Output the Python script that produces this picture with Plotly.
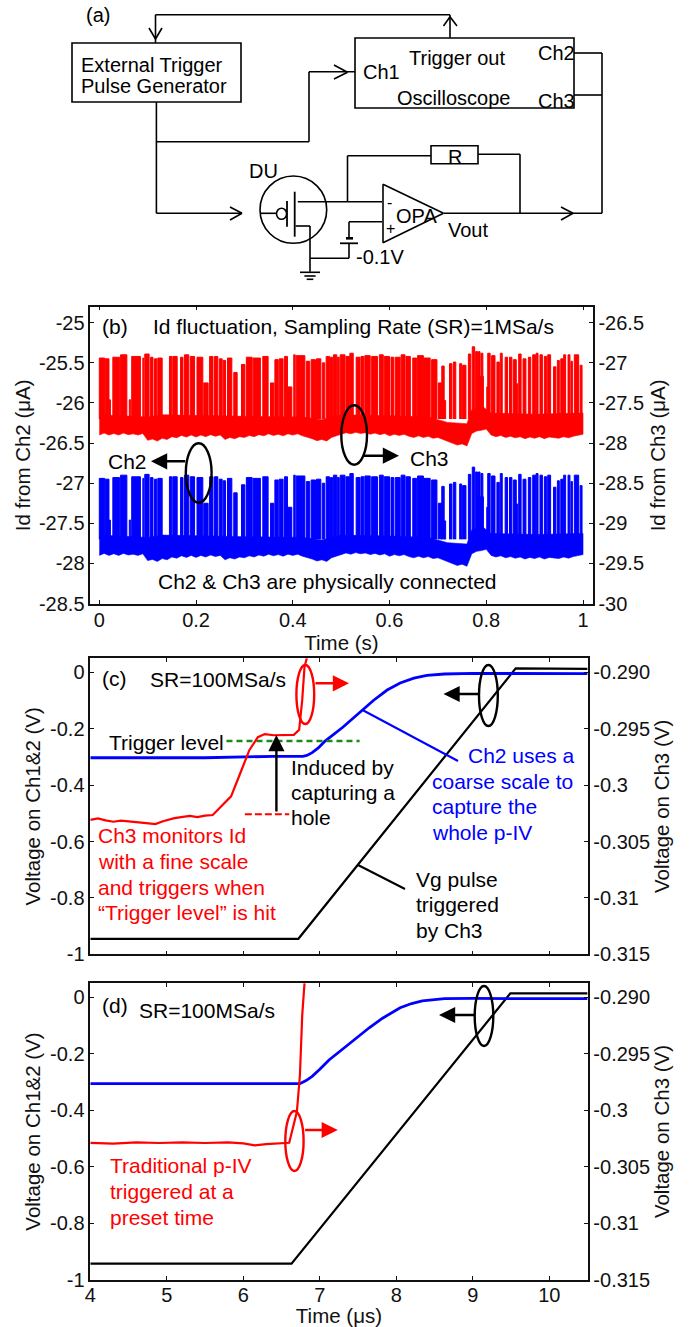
import plotly.graph_objects as go

# ---------- panel (b): Id fluctuation (values in uA; Ch2 on left axis, Ch3 on right axis)
b_xticks = [0, 0.2, 0.4, 0.6, 0.8, 1]
b_xticktext = ["0", "0.2", "0.4", "0.6", "0.8", "1"]
b_lticks = [-25, -25.5, -26, -26.5, -27, -27.5, -28, -28.5]
b_lticktext = ["-25", "-25.5", "-26", "-26.5", "-27", "-27.5", "-28", "-28.5"]
b_rticks = [-26.5, -27, -27.5, -28, -28.5, -29, -29.5, -30]
b_rticktext = ["-26.5", "-27", "-27.5", "-28", "-28.5", "-29", "-29.5", "-30"]

band_t = [i / 100 for i in range(101)]
band_low = [-27.90, -27.875, -27.90, -27.88, -27.90, -27.875, -27.895, -27.885, -27.90, -27.88,
            -27.965, -27.95, -27.975, -27.94, -27.955, -27.92, -27.935, -27.905, -27.925, -27.90,
            -27.925, -27.90, -27.92, -27.895, -27.915, -27.90, -27.955, -27.93, -27.945, -27.92,
            -27.93, -27.905, -27.92, -27.895, -27.91, -27.885, -27.905, -27.89, -27.91, -27.885,
            -27.90, -27.885, -27.91, -27.925, -27.945, -27.97, -27.955, -27.975, -27.93, -27.91,
            -27.885, -27.87, -27.885, -27.865, -27.88, -27.87, -27.89, -27.875, -27.895, -27.88,
            -27.91, -27.89, -27.905, -27.89, -27.915, -27.93, -27.91, -27.93, -27.915, -27.94,
            -27.93, -27.955, -27.975, -28.00, -28.025, -28.01, -28.035, -27.88, -27.85, -27.84,
            -27.825, -27.90, -27.92, -27.905, -27.93, -27.915, -27.935, -27.92, -27.945, -27.925,
            -27.94, -27.92, -27.945, -27.925, -27.93, -27.94, -27.92, -27.935, -27.915, -27.90, -27.89]
top_t = [0, .1, .13, .3, .42, .46, .5, .6, .68, .72, .76, .77, .79, .81, .9, 1.0]
band_high = [-27.647, -27.676, -27.647, -27.667, -27.676, -27.709, -27.647, -27.659, -27.676, -27.742, -27.759,
             -27.584, -27.534, -27.626, -27.64, -27.626]

spike_start = [.000, .012, .021, .028, .044, .062, .067, .090, .094, .106, .114, .121, .145, .152, .168, .176, .188,
               .202, .216, .228, .238, .248, .256, .265, .278, .294, .304, .318, .338, .354, .363, .372, .383, .390,
               .402, .407, .428, .438, .449, .461, .469, .478, .484, .492, .498, .510, .518, .531, .541, .549, .563,
               .579, .589, .603, .612, .624, .634, .648, .658, .671, .687, .701, .708, .713, .724, .732, .745, .751,
               .763, .771, .778, .784, .789, .780, .801, .803, .811, .822, .829, .839, .848, .856, .862, .867, .876,
               .887, .896, .903, .911, .920, .927, .939, .947, .954, .960, .969, .975, .982, .994]
spike_end = [.011, .020, .023, .042, .057, .065, .085, .092, .103, .111, .119, .130, .150, .161, .173, .185, .197,
             .214, .225, .235, .245, .254, .261, .274, .285, .301, .316, .333, .349, .361, .370, .380, .389, .398,
             .405, .425, .435, .447, .458, .466, .476, .482, .491, .496, .508, .517, .525, .539, .547, .560, .575,
             .587, .600, .609, .622, .632, .643, .656, .670, .684, .698, .708, .713, .716, .729, .737, .749, .758,
             .768, .776, .782, .787, .793, .794, .803, .808, .818, .827, .833, .844, .853, .862, .865, .872, .882,
             .892, .902, .907, .916, .925, .933, .944, .951, .959, .964, .973, .978, .991, .998]
spike_top = [-26.94, -26.95, -27.46, -26.93, -26.90, -27.46, -26.92, -26.94, -26.89, -26.93, -26.95, -26.94, -26.92,
             -26.92, -26.93, -26.90, -26.92, -26.93, -27.25, -26.92, -26.92, -26.95, -26.97, -26.94, -27.12, -27.02,
             -26.93, -26.94, -26.92, -27.25, -26.96, -26.95, -26.92, -27.30, -26.90, -26.91, -26.98, -26.96, -26.95,
             -27.00, -26.92, -26.93, -26.90, -26.93, -26.90, -26.92, -26.88, -26.93, -26.92, -26.91, -26.92, -26.90,
             -26.92, -26.93, -26.93, -26.90, -26.92, -26.94, -26.91, -26.94, -26.96, -27.25, -27.04, -27.47, -27.01,
             -26.99, -27.01, -27.03, -26.89, -26.80, -26.86, -26.86, -26.88, -27.17, -27.30, -26.88, -26.91, -26.99,
             -26.88, -26.93, -26.93, -26.96, -27.26, -26.89, -26.95, -26.93, -26.90, -26.88, -26.90, -26.92, -26.90,
             -27.05, -26.97, -26.95, -26.90, -26.90, -26.98, -26.90, -27.03]
spike_base = -27.7

# ---------- panels (c), (d): shared ticks
cd_xticks = [4, 5, 6, 7, 8, 9, 10]
cd_xticktext = ["4", "5", "6", "7", "8", "9", "10"]
cd_lticks = [0, -0.2, -0.4, -0.6, -0.8, -1]
cd_lticktext = ["0", "-0.2", "-0.4", "-0.6", "-0.8", "-1"]
cd_rticks = [-0.290, -0.295, -0.300, -0.305, -0.310, -0.315]
cd_rticktext = ["-0.290", "-0.295", "-0.3", "-0.305", "-0.31", "-0.315"]

# ---------- panel (c)
c_blue_t = [4, 5.5, 6.4, 6.78, 6.83, 6.9, 6.98, 7.06, 7.3, 7.56, 7.7, 7.88, 8.05, 8.23, 8.4, 8.63, 9, 10.5]
c_blue_v = [-.303, -.303, -.298, -.298, -.295, -.285, -.268, -.246, -.195, -.134, -.10, -.063, -.038, -.021, -.011,
            -.006, -.004, -.005]
c_black_t = [4, 6.72, 9.56, 10, 10.5]
c_black_v = [-.945, -.945, .014, .012, .012]
c_red_t = [4.0, 4.1, 4.2, 4.3, 4.4, 4.5, 4.6, 4.7, 4.85, 4.95, 5.1, 5.2, 5.3, 5.4, 5.5, 5.6, 5.73, 5.84, 5.96, 6.08,
           6.19, 6.28, 6.4, 6.5, 6.66, 6.73, 6.77, 6.80, 6.83]
c_red_v3 = [-.30308, -.30295, -.30313, -.30325, -.30315, -.3032, -.30328, -.30335, -.30345, -.3032, -.30293, -.30283,
            -.30273, -.30283, -.3027, -.30265, -.30175, -.301, -.29895, -.29688, -.29575, -.29548, -.29558, -.29555,
            -.29555, -.2951, -.29245, -.2895, -.28875]
trigger_t = [5.78, 7.52]
trigger_v = [-.2435, -.2435]
hole_t = [6.02, 6.6]
hole_v = [-.503, -.503]

# ---------- panel (d)
d_blue_t = [4, 6.74, 6.82, 6.9, 7.0, 7.12, 7.3, 7.47, 7.65, 7.82, 7.95, 8.05, 8.2, 8.34, 8.5, 8.63, 9, 10.5]
d_blue_v = [-.306, -.306, -.295, -.28, -.255, -.222, -.183, -.145, -.107, -.074, -.052, -.037, -.022, -.013, -.008,
            -.005, -.004, -.005]
d_black_t = [4, 6.63, 9.49, 10.5]
d_black_v = [-.943, -.943, .014, .014]
d_red_t = [4, 4.3, 4.6, 4.9, 5.2, 5.5, 5.8, 6.0, 6.15, 6.3, 6.6, 6.70, 6.74, 6.77, 6.80]
d_red_v3 = [-.30288, -.30295, -.30285, -.3029, -.30285, -.3029, -.30285, -.30293, -.3031, -.303, -.30288, -.30013,
            -.29688, -.29158, -.28875]

# ---------- page geometry (pixels)
W, H = 696, 1327
def fx(p): return p / W
def fy(p): return 1 - p / H

LEFT, B_RIGHT, CD_RIGHT = 90.3, 592.7, 587.6
B_TOP, B_BOT = 306.7, 604.0
C_TOP, C_BOT = 658.3, 954.3
D_TOP, D_BOT = 983.3, 1279.7

FONT = "Liberation Sans"
TICK = 20
TXT = 21
SCH = 20
TITLE = 20.5
INK = "#111111"
RED, BLUE, BLACK, GREEN = "#ff0000", "#0000ff", "#000000", "#1a8a1a"

fig = go.Figure()

def spike_polys():
    xs, ys = [], []
    for s, e, t in zip(spike_start, spike_end, spike_top):
        xs += [s, s, e, e, None]
        ys += [spike_base, t, t, spike_base, None]
    return xs, ys

def band_poly():
    return band_t + top_t[::-1], band_low + band_high[::-1]

for color, ya in ((BLUE, "y"), (RED, "y2")):
    bx, by = band_poly()
    fig.add_trace(go.Scatter(x=bx, y=by, fill="toself", fillcolor=color, mode="lines",
                             line=dict(color=color, width=0.6), xaxis="x", yaxis=ya, showlegend=False, hoverinfo="skip"))
    sx, sy = spike_polys()
    fig.add_trace(go.Scatter(x=sx, y=sy, fill="toself", fillcolor=color, mode="lines",
                             line=dict(color=color, width=1.0), xaxis="x", yaxis=ya, showlegend=False, hoverinfo="skip"))

def line(x, y, color, w, xa, ya, dash=None):
    fig.add_trace(go.Scatter(x=x, y=y, mode="lines", line=dict(color=color, width=w, dash=dash),
                             xaxis=xa, yaxis=ya, showlegend=False))

line(c_black_t, c_black_v, BLACK, 2.2, "x2", "y3")
line(c_blue_t, c_blue_v, BLUE, 2.8, "x2", "y3")
line(c_red_t, c_red_v3, RED, 2.2, "x2", "y4")
line(trigger_t, trigger_v, GREEN, 2.4, "x2", "y3", "6px,4px")
line(hole_t, hole_v, RED, 2.0, "x2", "y3", "7px,3px")

line(d_black_t, d_black_v, BLACK, 2.2, "x3", "y5")
line(d_blue_t, d_blue_v, BLUE, 2.8, "x3", "y5")
line(d_red_t, d_red_v3, RED, 2.2, "x3", "y6")

axis_common = dict(showline=True, linecolor=INK, linewidth=1.5, ticks="inside", ticklen=4, tickwidth=1.2,
                   tickcolor=INK, showgrid=False, zeroline=False, tickfont=dict(family=FONT, size=TICK, color=INK))

def ytitle(text, standoff):
    return dict(text=text, font=dict(family=FONT, size=TITLE, color=INK), standoff=standoff)

fig.update_layout(
    width=W, height=H, margin=dict(l=0, r=0, t=0, b=0, autoexpand=False),
    paper_bgcolor="white", plot_bgcolor="white", showlegend=False,
    font=dict(family=FONT, size=TXT, color=INK),
    xaxis=dict(domain=[fx(LEFT), fx(B_RIGHT)], range=[-0.0186, 1.02], tickvals=b_xticks, ticktext=b_xticktext,
               anchor="y", mirror="ticks", ticklabelstandoff=-3,
               title=dict(text="Time (s)", font=dict(family=FONT, size=TITLE, color=INK), standoff=0), **axis_common),
    yaxis=dict(domain=[fy(B_BOT), fy(B_TOP)], range=[-28.506, -24.80], tickvals=b_lticks, ticktext=b_lticktext,
               anchor="x", title=ytitle("Id from Ch2 (μA)", 3), **axis_common),
    yaxis2=dict(domain=[fy(B_BOT), fy(B_TOP)], range=[-30.006, -26.30], tickvals=b_rticks, ticktext=b_rticktext,
                anchor="x", overlaying="y", side="right", title=ytitle("Id from Ch3 (μA)", 8), **axis_common),
    xaxis2=dict(domain=[fx(LEFT), fx(CD_RIGHT)], range=[4, 10.5], tickvals=cd_xticks, ticktext=[""] * 7,
                anchor="y3", mirror="ticks", **axis_common),
    yaxis3=dict(domain=[fy(C_BOT), fy(C_TOP)], range=[-1, 0.0496], tickvals=cd_lticks, ticktext=cd_lticktext,
                anchor="x2", title=ytitle("Voltage on Ch1&2 (V)", 4), **axis_common),
    yaxis4=dict(domain=[fy(C_BOT), fy(C_TOP)], range=[-0.315, -0.28876], tickvals=cd_rticks, ticktext=cd_rticktext,
                anchor="x2", overlaying="y3", side="right", title=ytitle("Voltage on Ch3 (V)", 6), **axis_common),
    xaxis3=dict(domain=[fx(LEFT), fx(CD_RIGHT)], range=[4, 10.5], tickvals=cd_xticks, ticktext=cd_xticktext,
                anchor="y5", mirror="ticks", ticklabelstandoff=-3,
                title=dict(text="Time (μs)", font=dict(family=FONT, size=TITLE, color=INK), standoff=0), **axis_common),
    yaxis5=dict(domain=[fy(D_BOT), fy(D_TOP)], range=[-1, 0.0496], tickvals=cd_lticks, ticktext=cd_lticktext,
                anchor="x3", title=ytitle("Voltage on Ch1&2 (V)", 4), **axis_common),
    yaxis6=dict(domain=[fy(D_BOT), fy(D_TOP)], range=[-0.315, -0.28876], tickvals=cd_rticks, ticktext=cd_rticktext,
                anchor="x3", overlaying="y5", side="right", title=ytitle("Voltage on Ch3 (V)", 6), **axis_common),
)

# ---------- schematic (a) and call-outs, placed on the page in pixels
shapes = []
def poly(pts, color=BLACK, w=1.6):
    for (x0, y0), (x1, y1) in zip(pts[:-1], pts[1:]):
        shapes.append(dict(type="line", xref="paper", yref="paper", x0=fx(x0), y0=fy(y0), x1=fx(x1), y1=fy(y1),
                           line=dict(color=color, width=w)))
def rect(x0, y0, x1, y1, w=1.6):
    shapes.append(dict(type="rect", xref="paper", yref="paper", x0=fx(x0), y0=fy(y0), x1=fx(x1), y1=fy(y1),
                       line=dict(color=BLACK, width=w), fillcolor="rgba(0,0,0,0)"))
def oval(x0, y0, x1, y1, color=BLACK, w=2.4):
    shapes.append(dict(type="circle", xref="paper", yref="paper", x0=fx(x0), y0=fy(y0), x1=fx(x1), y1=fy(y1),
                       line=dict(color=color, width=w), fillcolor="rgba(0,0,0,0)"))

rect(72, 43, 241, 102)
rect(355, 38, 574, 108)
poly([(155.5, 43), (155.5, 14.7), (450, 14.7), (450, 37.7)])
poly([(149, 28), (155.5, 39), (162, 28)])
poly([(443.5, 26), (450, 16.7), (457, 26)])
poly([(156.4, 102), (156.4, 213.3), (242, 213.3)])
poly([(230, 207), (242, 213.3), (230, 220)])
poly([(156.4, 141.7), (309, 141.7), (309, 71.7), (355, 71.7)])
poly([(334, 65), (347.5, 72.3), (334, 79)])
poly([(574, 53), (602, 53)])
poly([(574, 95), (602, 95)])
poly([(602, 53), (602, 213.3), (444, 213.3)])
poly([(561, 207), (573, 213.3), (561, 220)])
poly([(347.5, 201.7), (347.5, 155.7), (431, 155.7)])
rect(431, 145.7, 478, 163.7)
poly([(478, 154.3), (520, 154.3), (520, 213.3)])
oval(260, 176, 326.7, 243.3, BLACK, 1.6)
poly([(260, 213.3), (276.5, 213.3)])
oval(276.5, 208.3, 286.6, 219.3, BLACK, 1.6)
poly([(287, 201), (287, 226.7)], BLACK, 1.8)
poly([(294.7, 191.7), (294.7, 236.7)], BLACK, 1.8)
poly([(297.8, 201.7), (382, 201.7)])
poly([(295.5, 226), (310, 226), (310, 271.7)])
poly([(300, 272.3), (320, 272.3)])
poly([(304.4, 276), (315.6, 276)])
poly([(306.7, 279.3), (313.3, 279.3)])
poly([(310, 258.3), (349, 258.3), (349, 243.3)])
poly([(340, 243.3), (358, 243.3)], BLACK, 1.8)
poly([(346, 238.3), (353, 238.3)], BLACK, 2.6)
poly([(349, 238.3), (349, 221.7), (382, 221.7)])
poly([(383, 184.3), (383, 242.7), (443.5, 213.3), (383, 184.3)])

oval(185.8, 443.3, 211.6, 502.7)
oval(341.3, 405.3, 367, 464.7)
oval(296.4, 665, 314.2, 724, RED)
oval(479, 665, 497.8, 726)
oval(285.3, 1111, 303.6, 1171, RED)
oval(474.7, 986, 493.3, 1046)
poly([(362.5, 710), (458, 761)], BLUE, 2.0)
poly([(358, 865), (405, 889)], BLACK, 2.0)
fig.update_layout(shapes=shapes)

ann = []
def text(x, y, s, color=BLACK, size=TXT):
    ann.append(dict(xref="paper", yref="paper", x=fx(x), y=fy(y), text=s, showarrow=False, xanchor="left",
                    yanchor="middle", font=dict(family=FONT, size=size, color=color)))
def arrow(x0, y0, x1, y1, color=BLACK):
    ann.append(dict(xref="paper", yref="paper", x=fx(x1), y=fy(y1), axref="pixel", ayref="pixel",
                    ax=x0 - x1, ay=y0 - y1, text="", showarrow=True, arrowhead=2, arrowsize=1.35,
                    arrowwidth=2.4, arrowcolor=color))

text(84, 15, "(a)", size=SCH)
text(79, 65, "External Trigger", size=SCH)
text(78.5, 86, "Pulse Generator", size=SCH)
text(361, 72, "Ch1", size=SCH)
text(406.7, 58, "Trigger out", size=SCH)
text(394.7, 98, "Oscilloscope", size=SCH)
text(535.6, 53, "Ch2", size=SCH)
text(535.6, 100.7, "Ch3", size=SCH)
text(446, 157, "R", size=SCH)
text(246.7, 170.7, "DU", size=SCH)
text(385, 202, "-", size=16)
text(384, 229, "+", size=16)
text(394, 216, "OPA", size=SCH)
text(445.8, 230, "Vout", size=SCH)
text(354, 256.7, "-0.1V", size=SCH)

text(100, 326.7, "(b)")
text(151, 326.7, "Id fluctuation, Sampling Rate (SR)=1MSa/s")
text(105.8, 461.7, "Ch2")
text(408, 458, "Ch3")
text(156.4, 581.7, "Ch2 &amp; Ch3 are physically connected")
arrow(186.7, 461.3, 151, 461.3)
arrow(362, 455.7, 399, 455.7)

text(100, 678.3, "(c)")
text(148, 679.3, "SR=100MSa/s")
text(106.7, 742.7, "Trigger level")
text(289, 767.3, "Induced by")
text(289, 792.3, "capturing a")
text(289, 817.7, "hole")
text(465.8, 755, "Ch2 uses a", BLUE)
text(430, 781, "coarse scale to", BLUE)
text(430, 806.7, "capture the", BLUE)
text(430, 832.3, "whole p-IV", BLUE)
text(96, 835.7, "Ch3 monitors Id", RED)
text(96, 861.7, "with a fine scale", RED)
text(96, 887.3, "and triggers when", RED)
text(96, 912.7, "“Trigger level” is hit", RED)
text(414, 879, "Vg pulse")
text(414, 904, "triggered")
text(414, 930.7, "by Ch3")
arrow(314, 683.3, 349, 683.3, RED)
arrow(480, 694, 443.5, 694)
arrow(276.4, 813, 276.4, 735)

text(100, 1005.7, "(d)")
text(136.9, 1010, "SR=100MSa/s")
text(108, 1165, "Traditional p-IV", RED)
text(108, 1191, "triggered at a", RED)
text(108, 1217, "preset time", RED)
arrow(303.6, 1130, 337.8, 1130, RED)
arrow(475.6, 1015, 439, 1015)
fig.update_layout(annotations=ann)

fig.write_html("out.html", post_script="document.body.style.margin='0';", config={"displayModeBar": False})
